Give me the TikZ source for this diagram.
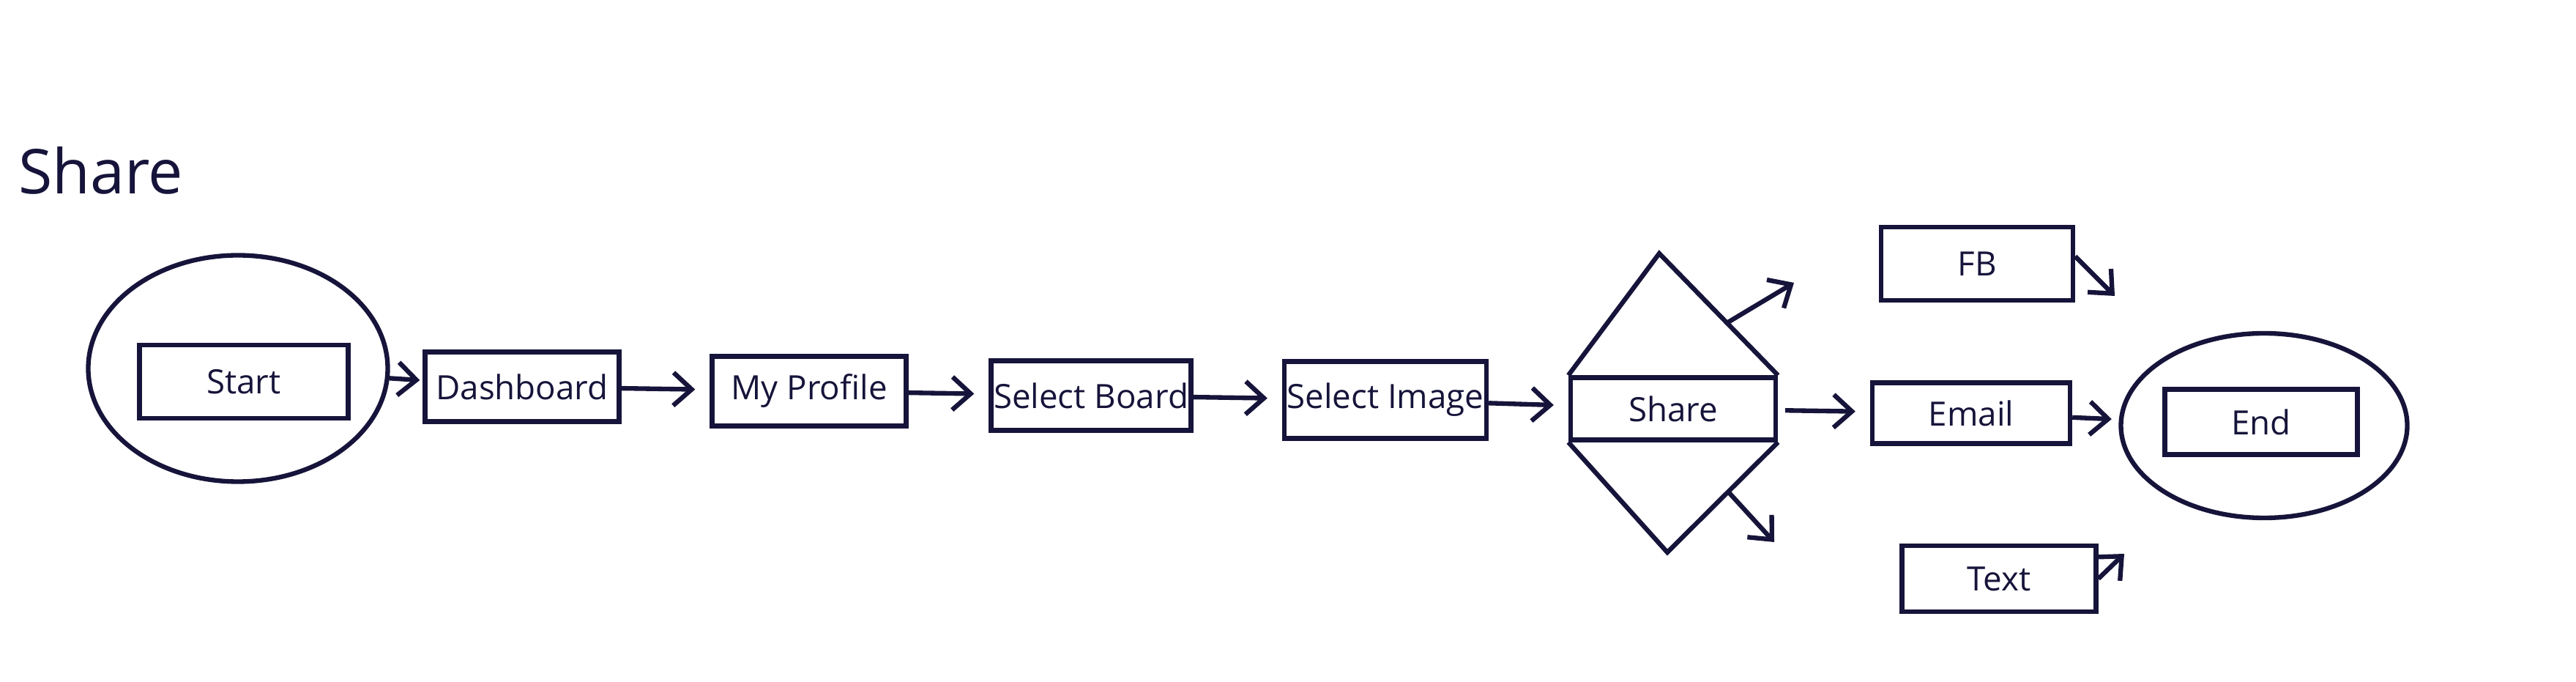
\documentclass[tikz,border=0pt]{standalone}
\usepackage{fontspec}
\setmainfont{Open Sans}
\usepackage{tikz}
\usetikzlibrary{arrows.meta,shapes.geometric,calc}
\definecolor{ink}{RGB}{22,20,58}

\begin{document}
\begin{tikzpicture}[x=1mm,y=1mm,>={Straight Barb[length=2.5mm,width=4.5mm]},
  line width=1.8pt,draw=ink,
  screen/.style={draw=ink,rectangle,minimum width=26.5mm,minimum height=9.5mm,inner sep=1pt,font=\fontsize{13}{15}\selectfont,text=ink},
  oval/.style={draw=ink,ellipse,inner sep=0pt},
  flow/.style={->,draw=ink,shorten >=2mm},
  title/.style={font=\fontsize{24}{28}\selectfont,text=ink,inner sep=0pt}]
\useasboundingbox (0,0) rectangle (351.8,93);
\node[title,anchor=base west] (T) at (2.2,66.5) {Share};
\node[oval,minimum width=40.9mm,minimum height=30.9mm] (SO) at (32.5,42.7) {};
\node[screen,minimum width=28.5mm,minimum height=10mm] (S) at (33.3,40.9) {Start};
\node[screen] (D) at (71.3,40.2) {Dashboard};
\node[screen] (P) at (110.5,39.6) {My Profile};
\node[screen] (B) at (149.0,39.0) {Select Board};
\node[screen,minimum width=25.3mm,minimum height=10.5mm] (I) at (189.2,38.4) {Select Image};
\node[screen,minimum width=28mm,minimum height=8.5mm] (SH) at (228.5,37.2) {Share};
\coordinate (Dtop) at (226.6,58.4);
\coordinate (Dbot) at (227.7,17.6);
\draw (SH.north west) -- (Dtop) -- (SH.north east);
\draw (SH.south west) -- (Dbot) -- (SH.south east);
\node[screen,minimum width=26.2mm,minimum height=10mm] (FB) at (270.0,57.0) {FB};
\node[screen,minimum width=27mm,minimum height=8.3mm] (EM) at (269.2,36.6) {Email};
\node[screen,minimum width=26.5mm,minimum height=9mm] (TX) at (273.0,14.0) {Text};
\node[oval,minimum width=39.1mm,minimum height=25.2mm] (EO) at (309.2,34.9) {};
\node[screen,minimum width=26.3mm,minimum height=8.9mm] (E) at (308.8,35.4) {End};
% main line
\draw[flow,shorten >=0.4mm] (SO) -- (D);
\draw[flow] (D) -- (P);
\draw[flow] (P) -- (B);
\draw[flow] (B) -- (I);
\draw[flow] (I) -- (SH);
\draw[flow,shorten <=1mm] (SH) -- (EM);
\draw[flow,shorten >=1mm] (EM) -- (EO);
% loose ends
\coordinate (up) at (245.0,54.4);
\coordinate (dn) at (242.3,19.0);
\coordinate (fbend) at (288.8,52.6);
\coordinate (txend) at (290.1,17.4);
\draw[->] ($(Dtop)!0.57!(SH.north east)$) -- (up);
\draw[->] ($(SH.south east)!0.45!(Dbot)$) -- (dn);
\draw[->] (FB.east) ++(0,1) -- (fbend);
\draw[->] (TX.east) -- (txend);
\end{tikzpicture}
\end{document}
